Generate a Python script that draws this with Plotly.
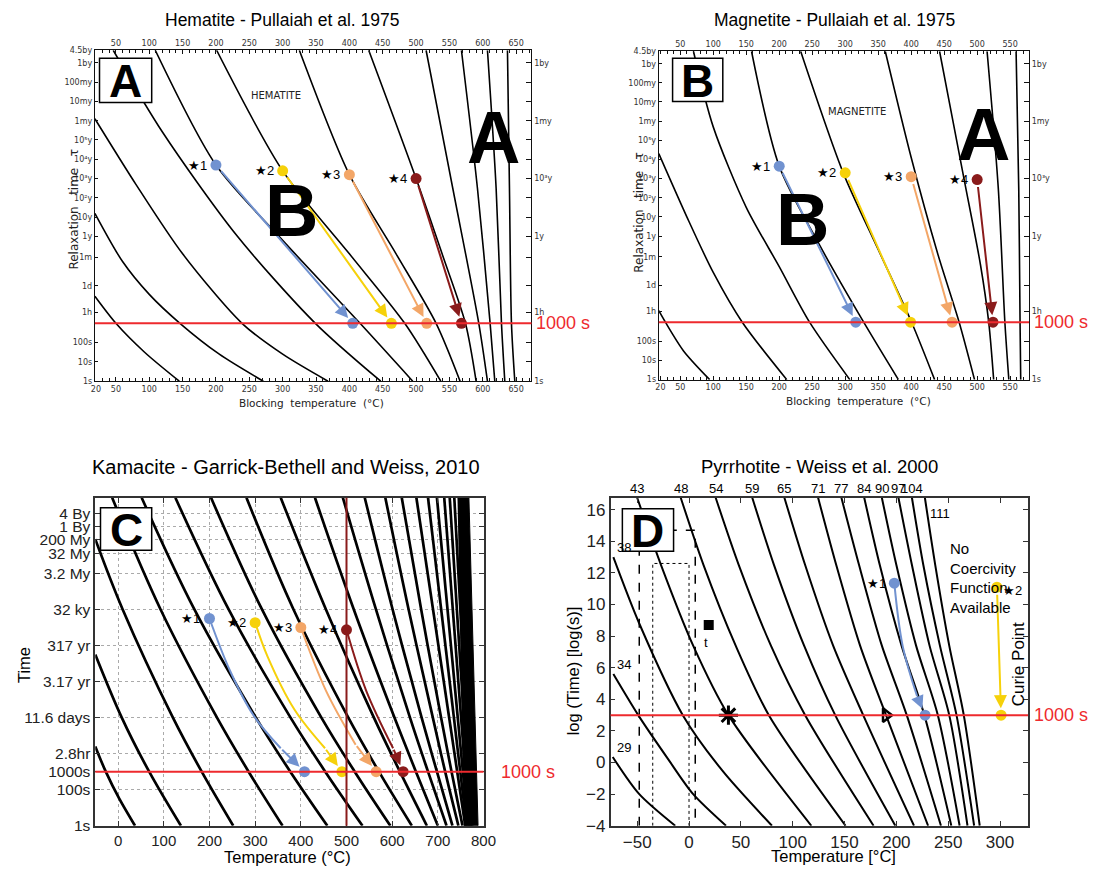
import plotly.graph_objects as go

W, H = 1108, 882

# ---------------- Hematite (Pullaiah et al. 1975) : T [°C], log10(time/s) ----------------
HEM_CURVE_T = [
    [18.5, 50, 93, 145],
    [18.5, 60, 100, 146, 205, 271],
    [18.5, 80, 150, 239, 300, 368],
    [46, 120, 230, 349, 447],
    [109, 200, 300, 416, 495],
    [201, 300, 400, 483, 537],
    [325, 400, 470, 530, 566],
    [429, 500, 540, 574, 590],
    [515, 555, 594, 607],
    [568, 592, 611, 618],
    [607, 620, 628, 633],
    [637, 640, 643, 648],
]
HEM_CURVE_L = [
    [4.4, 3.0, 1.5, 0],
    [8.7, 6.2, 4.5, 3.0, 1.4, 0],
    [13.6, 10.2, 6.6, 3.0, 1.4, 0],
    [17.15, 12.9, 7.6, 3.0, 0],
    [17.15, 11.2, 7.3, 3.0, 0],
    [17.15, 10.9, 6.6, 3.0, 0],
    [17.15, 10.7, 6.6, 3.0, 0],
    [17.15, 10.5, 6.5, 3.0, 0],
    [17.15, 10.0, 3.0, 0],
    [17.15, 10.0, 3.0, 0],
    [17.15, 10.0, 3.0, 0],
    [17.15, 10.0, 3.0, 0],
]
HEM_START_T = [200, 300, 400, 500]
HEM_START_L = [11.2, 10.9, 10.7, 10.5]
HEM_END_T = [405, 463, 516, 568]

# ---------------- Magnetite (Pullaiah et al. 1975) ----------------
MAG_CURVE_T = [
    [17.5, 27.5, 55, 94.6],
    [17.5, 60, 100, 144, 211.5],
    [70, 100, 150, 200, 246, 307],
    [158, 200, 260, 328, 380.6],
    [232.5, 297, 350, 400.6, 435.5],
    [360.7, 400, 440, 472.7, 496],
    [443, 480, 505, 517.5, 525],
    [515, 532, 542, 548],
    [559, 563, 565, 566],
]
MAG_CURVE_L = [
    [3.6, 3.0, 1.5, 0],
    [11.8, 8.5, 5.6, 3.0, 0],
    [17.15, 13.2, 9.0, 5.9, 3.0, 0],
    [17.15, 11.15, 7.1, 3.0, 0],
    [17.15, 10.8, 6.8, 3.0, 0],
    [17.15, 11.6, 6.6, 3.0, 0],
    [17.15, 10.5, 6.0, 3.0, 0],
    [17.15, 10.0, 3.0, 0],
    [17.15, 10.0, 3.0, 0],
]
MAG_START_T = [200, 300, 400, 500]
MAG_START_L = [11.15, 10.8, 10.6, 10.45]
MAG_END_T = [316, 399, 462, 524]

# Shared time axis of the two nomograms
PUL_TICK_L = [17.15, 16.5, 15.5, 14.5, 13.5, 12.5, 11.5, 10.5, 9.5, 8.5, 7.5, 6.42, 4.94, 3.56, 2, 1, 0]
PUL_TICK_TEXT = ['4.5by', '1by', '100my', '10my', '1my', '10⁵y', '10⁴y', '10³y', '10²y', '10y',
                 '1y', '1m', '1d', '1h', '100s', '10s', '1s']
PUL_RIGHT_TEXT = ['', '1by', '', '', '1my', '', '', '10³y', '', '', '1y', '', '', '1h', '', '', '1s']

# ---------------- Kamacite (Garrick-Bethell and Weiss, 2010) ----------------
KAM_CURVE_T = [
    [-50, -27, 2.5, 37],
    [-50, 8, 68, 137.5],
    [-50, 10, 120, 183, 252],
    [-13, 93, 216.5, 285.7, 360],
    [51.6, 167, 301.6, 377, 458],
    [125.4, 242, 377.5, 453.5, 535],
    [203.5, 315, 445, 518, 596],
    [281, 384, 504, 571, 643],
    [356, 455, 560, 617, 676],
    [431, 516, 605, 652, 700],
    [492, 564.5, 639, 678.5, 719],
    [540, 601, 664.5, 698, 732],
    [585, 636, 689, 716, 745],
    [621, 663.5, 707, 730, 754],
    [653, 760],
    [678.5, 763],
    [698, 766],
    [714, 769],
    [726, 772],
    [736, 775],
]
KAM_CURVE_L = [
    [4.4, 3.0, 1.5, 0],
    [9.5, 6.0, 3.0, 0],
    [15.9, 12.0, 6.0, 3.0, 0],
] + [[18.2, 12.0, 6.0, 3.0, 0]] * 11 + [[18.2, 0]] * 6
KAM_BAND_T = [743, 768, 788, 757]
KAM_BAND_L = [18.2, 18.2, 0, 0]
KAM_MARK_T = 500
KAM_START_T = [200, 300, 400, 500]
KAM_START_L = [11.5, 11.27, 11.0, 10.87]
KAM_END_T = [408, 490, 565, 624]
KAM_PATH_T = [[200, 245, 297, 356], [300, 327, 386, 453], [400, 455, 520], [500, 543, 602]]
KAM_PATH_L = [[11.5, 8.6, 6.1, 4.3], [11.27, 9.4, 6.45, 4.3], [11.0, 7.5, 4.5], [10.87, 7.5, 4.3]]
KAM_TICK_L = [17.3, 16.6, 15.9, 15.1, 14.0, 12.0, 10.0, 8.0, 6.0, 4.0, 3.0, 2.0, 0]
KAM_TICK_TEXT = ['4 By', '1 By', '200 My', '32 My', '3.2 My', '32 ky', '317 yr', '3.17 yr',
                 '11.6 days', '2.8hr', '1000s', '100s', '1s']

# ---------------- Pyrrhotite (Weiss et al. 2000) ----------------
PYR_LABELS = ['29', '34', '38', '43', '48', '54', '59', '65', '71', '77', '84', '90', '97', '104', '111']
PYR_CURVE_T = [
    [-73.6, -48, -13.3],
    [-73, -49, -20, 4, 35.7],
    [-73, -48, -6, 32, 80],
    [-50, -27, 4, 38, 118],
    [-8, 14, 45, 77, 151],
    [25.7, 48, 79, 112, 178],
    [61, 82, 111, 141, 199],
    [92, 112, 139, 168, 217],
    [124.5, 142, 165, 190, 230.6],
    [147, 164, 186, 210, 243],
    [169, 184, 205, 227, 253],
    [186, 200, 219, 240, 261],
    [202, 215, 232, 251, 268.6],
    [215, 226, 242, 258, 275],
    [227.5, 237.5, 251, 265, 280.4],
]
PYR_CURVE_L = [
    [0.35, -2, -4],
    [5.6, 3.0, 0.2, -2, -4],
    [13.0, 8.8, 3.0, -0.5, -4],
] + [[16.76, 12.5, 7.4, 3.0, -4]] * 12
PYR_START_T = [198, 297]
PYR_START_L = [11.35, 11.1]
PYR_END_T = [227.7, 301]
PYR_BLUE_PATH_T = [198, 206, 220]
PYR_BLUE_PATH_L = [11.35, 7.4, 4.2]
PYR_DASH_T = [-48, -48, 6, 6]
PYR_DASH_L = [-4, 14.7, 14.7, -4]
PYR_DOT_T = [-35, -35, 0, 0]
PYR_DOT_L = [-4, 12.6, 12.6, -4]
PYR_SQUARE = (19, 8.7)
PYR_ASTER = (38, 3.0)
PYR_TRIANGLE = (190, 3.0)

REF_LOG_TIME = 3.0   # log10(1000 s)

BLUE, YELLOW, ORANGE, MAROON = '#7192d0', '#f6d10a', '#f3a667', '#8a1b1b'
RED = '#ee2a2e'
DOT_COLORS = [BLUE, YELLOW, ORANGE, MAROON]

SCAN_FONT = 'DejaVu Sans'
SANS = 'Liberation Sans'

fig = go.Figure()


def px(x):
    return x / W


def py(y):
    return 1 - y / H


def add_curves(ts, ls, xa, ya, width, smoothing=0.8):
    for t, l in zip(ts, ls):
        fig.add_trace(go.Scatter(x=t, y=l, mode='lines', xaxis=xa, yaxis=ya, hoverinfo='skip',
                                 line=dict(color='black', width=width, shape='spline', smoothing=smoothing),
                                 showlegend=False))


def add_dots(ts, ls, colors, xa, ya, size=11):
    fig.add_trace(go.Scatter(x=ts, y=ls, mode='markers', xaxis=xa, yaxis=ya, hoverinfo='skip',
                             marker=dict(color=colors, size=size, line=dict(width=0)), showlegend=False))


def add_arrow(xa, ya, x0, y0, x1, y1, color, width=2, startstandoff=6):
    fig.add_annotation(x=x1, y=y1, ax=x0, ay=y0, xref=xa, yref=ya, axref=xa, ayref=ya, text='',
                       showarrow=True, arrowhead=2, arrowsize=1.3, arrowwidth=width, arrowcolor=color,
                       standoff=7, startstandoff=startstandoff)


def add_stars(ts, ls, xa, ya, size=13):
    for i, (t, l) in enumerate(zip(ts, ls)):
        fig.add_annotation(x=t, y=l, xref=xa, yref=ya, text='★' + str(i + 1), showarrow=False,
                           xanchor='right', yanchor='middle', xshift=-7,
                           font=dict(size=size, color='black', family=SANS))


def red_line(xa, ya, label_px):
    fig.add_shape(type='line', xref=xa + ' domain', x0=0, x1=1, yref=ya, y0=REF_LOG_TIME, y1=REF_LOG_TIME,
                  line=dict(color=RED, width=2), layer='above')
    fig.add_annotation(x=px(label_px), y=REF_LOG_TIME, xref='paper', yref=ya, text='1000 s', showarrow=False,
                       xanchor='left', yanchor='middle', font=dict(size=18, color=RED, family=SANS))


def letter_box(x0, y0, x1, y1, letter):
    fig.add_shape(type='rect', xref='paper', yref='paper', x0=px(x0), x1=px(x1), y0=py(y1), y1=py(y0),
                  line=dict(color='black', width=1.5), fillcolor='white', layer='above')
    fig.add_annotation(x=px((x0 + x1) / 2), y=py((y0 + y1) / 2), xref='paper', yref='paper',
                       text='<b>' + letter + '</b>', showarrow=False, xanchor='center', yanchor='middle',
                       font=dict(size=46, color='black', family=SANS), yshift=-1)


def big_letter(cx, cy, letter):
    fig.add_annotation(x=px(cx), y=py(cy), xref='paper', yref='paper', text='<b>' + letter + '</b>',
                       showarrow=False, xanchor='center', yanchor='middle',
                       font=dict(size=74, color='black', family=SANS))


def text(x, y, s, size, angle=0, family=SANS, color='black'):
    fig.add_annotation(x=px(x), y=py(y), xref='paper', yref='paper', text=s, showarrow=False,
                       textangle=angle, xanchor='center', yanchor='middle',
                       font=dict(size=size, color=color, family=family))


# ---------------- Panel A ----------------
add_curves(HEM_CURVE_T, HEM_CURVE_L, 'x', 'y', 1.6)
fig.add_trace(go.Scatter(x=[300], y=[5], xaxis='x2', yaxis='y2', mode='markers',
                         marker=dict(opacity=0), hoverinfo='skip', showlegend=False))
for i in range(4):
    add_arrow('x', 'y', HEM_START_T[i], HEM_START_L[i], HEM_END_T[i], REF_LOG_TIME, DOT_COLORS[i])
red_line('x', 'y', 538)
add_dots(HEM_START_T + HEM_END_T, HEM_START_L + [REF_LOG_TIME] * 4, DOT_COLORS * 2, 'x', 'y')
add_stars(HEM_START_T, HEM_START_L, 'x', 'y')
fig.add_annotation(x=290, y=14.8, xref='x', yref='y', text='HEMATITE', showarrow=False,
                   font=dict(size=10, family=SCAN_FONT, color='#222'))

# ---------------- Panel B ----------------
add_curves(MAG_CURVE_T, MAG_CURVE_L, 'x3', 'y3', 1.6)
fig.add_trace(go.Scatter(x=[300], y=[5], xaxis='x4', yaxis='y4', mode='markers',
                         marker=dict(opacity=0), hoverinfo='skip', showlegend=False))
for i in range(4):
    add_arrow('x3', 'y3', MAG_START_T[i], MAG_START_L[i], MAG_END_T[i], REF_LOG_TIME, DOT_COLORS[i])
red_line('x3', 'y3', 1044)
add_dots(MAG_START_T + MAG_END_T, MAG_START_L + [REF_LOG_TIME] * 4, DOT_COLORS * 2, 'x3', 'y3')
add_stars(MAG_START_T, MAG_START_L, 'x3', 'y3')
fig.add_annotation(x=318, y=14.0, xref='x3', yref='y3', text='MAGNETITE', showarrow=False,
                   font=dict(size=10, family=SCAN_FONT, color='#222'))

# ---------------- Panel C ----------------
fig.add_trace(go.Scatter(x=KAM_BAND_T, y=KAM_BAND_L, xaxis='x5', yaxis='y5', mode='lines', fill='toself',
                         fillcolor='black', line=dict(color='black', width=1), hoverinfo='skip',
                         showlegend=False))
add_curves(KAM_CURVE_T, KAM_CURVE_L, 'x5', 'y5', 2.7, smoothing=1.0)
fig.add_shape(type='line', xref='x5', x0=KAM_MARK_T, x1=KAM_MARK_T, yref='y5 domain', y0=0, y1=1,
              line=dict(color=MAROON, width=2))
for i in range(4):
    fig.add_trace(go.Scatter(x=KAM_PATH_T[i], y=KAM_PATH_L[i], xaxis='x5', yaxis='y5', mode='lines',
                             line=dict(color=DOT_COLORS[i], width=2, shape='spline'), hoverinfo='skip',
                             showlegend=False))
    add_arrow('x5', 'y5', KAM_PATH_T[i][-1], KAM_PATH_L[i][-1], KAM_END_T[i], REF_LOG_TIME, DOT_COLORS[i],
              startstandoff=0)
red_line('x5', 'y5', 503)
add_dots(KAM_START_T + KAM_END_T, KAM_START_L + [REF_LOG_TIME] * 4, DOT_COLORS * 2, 'x5', 'y5')
add_stars(KAM_START_T, KAM_START_L, 'x5', 'y5')

# ---------------- Panel D ----------------
fig.add_trace(go.Scatter(x=PYR_DASH_T, y=PYR_DASH_L, xaxis='x6', yaxis='y6', mode='lines',
                         line=dict(color='black', width=1.5, dash='dash'), hoverinfo='skip', showlegend=False))
fig.add_trace(go.Scatter(x=PYR_DOT_T, y=PYR_DOT_L, xaxis='x6', yaxis='y6', mode='lines',
                         line=dict(color='black', width=1, dash='dot'), hoverinfo='skip', showlegend=False))
add_curves(PYR_CURVE_T, PYR_CURVE_L, 'x6', 'y6', 2.0)
red_line('x6', 'y6', 1044)
fig.add_trace(go.Scatter(x=[PYR_SQUARE[0]], y=[PYR_SQUARE[1]], xaxis='x6', yaxis='y6', mode='markers',
                         marker=dict(symbol='square', color='black', size=10), hoverinfo='skip',
                         showlegend=False))
fig.add_trace(go.Scatter(x=[PYR_ASTER[0]], y=[PYR_ASTER[1]], xaxis='x6', yaxis='y6', mode='markers',
                         marker=dict(symbol='asterisk-open', size=16, color='black',
                                     line=dict(color='black', width=3)),
                         hoverinfo='skip', showlegend=False))
fig.add_trace(go.Scatter(x=[PYR_TRIANGLE[0]], y=[PYR_TRIANGLE[1]], xaxis='x6', yaxis='y6', mode='markers',
                         marker=dict(symbol='triangle-right-open', size=12, color='black',
                                     line=dict(color='black', width=2.5)),
                         hoverinfo='skip', showlegend=False))
fig.add_trace(go.Scatter(x=PYR_BLUE_PATH_T, y=PYR_BLUE_PATH_L, xaxis='x6', yaxis='y6', mode='lines',
                         line=dict(color=BLUE, width=2, shape='spline'), hoverinfo='skip', showlegend=False))
add_arrow('x6', 'y6', PYR_BLUE_PATH_T[-1], PYR_BLUE_PATH_L[-1], PYR_END_T[0], REF_LOG_TIME, BLUE,
          startstandoff=0)
add_arrow('x6', 'y6', PYR_START_T[1], PYR_START_L[1], PYR_END_T[1], REF_LOG_TIME, YELLOW)
add_dots(PYR_START_T + PYR_END_T, PYR_START_L + [REF_LOG_TIME] * 2, [BLUE, YELLOW, BLUE, YELLOW], 'x6', 'y6')
fig.add_annotation(x=PYR_START_T[0], y=PYR_START_L[0], xref='x6', yref='y6', text='★1', showarrow=False,
                   xanchor='right', yanchor='middle', xshift=-6, font=dict(size=13, family=SANS, color='black'))
fig.add_annotation(x=PYR_START_T[1], y=PYR_START_L[1], xref='x6', yref='y6', text='★2', showarrow=False,
                   xanchor='left', yanchor='middle', xshift=4, yshift=-3,
                   font=dict(size=13, family=SANS, color='black'))
fig.add_annotation(x=16, y=7.6, xref='x6', yref='y6', text='t', showarrow=False,
                   font=dict(size=13, family=SANS, color='black'))
for lab, t, l in zip(PYR_LABELS, PYR_CURVE_T, PYR_CURVE_L):
    if lab in ('29', '34', '38'):
        fig.add_annotation(x=t[0], y=l[0], xref='x6', yref='y6', text=lab, showarrow=False,
                           xanchor='left', yanchor='bottom', xshift=2,
                           font=dict(size=13, family=SANS, color='black'))
    elif lab == '111':
        fig.add_annotation(x=t[0], y=l[0], xref='x6', yref='y6', text=lab, showarrow=False,
                           xanchor='left', yanchor='top', xshift=3, yshift=-6,
                           font=dict(size=13, family=SANS, color='black'))
    else:
        fig.add_annotation(x=t[0], y=1.0, xref='x6', yref='y6 domain', text=lab, showarrow=False,
                           xanchor='center', yanchor='bottom', font=dict(size=13, family=SANS, color='black'))
fig.add_annotation(x=250, y=14.2, xref='x6', yref='y6', text='No<br>Coercivity<br>Function<br>Available',
                   showarrow=False, xanchor='left', yanchor='top', align='left',
                   font=dict(size=15, family=SANS, color='black'))
fig.add_annotation(x=318, y=6.2, xref='x6', yref='y6', text='Curie Point', showarrow=False, textangle=-90,
                   xanchor='center', yanchor='middle', font=dict(size=17, family=SANS, color='black'))

# ---------------- Letter boxes, big letters, titles ----------------
letter_box(97, 55, 150, 100, 'A')
letter_box(679, 55, 730, 99, 'B')
letter_box(98, 512, 150, 555, 'C')
letter_box(628, 513, 680, 556, 'D')
big_letter(292, 210, 'B')
big_letter(497, 136, 'A')
big_letter(811, 219, 'B')
big_letter(995, 133, 'A')

text(282, 16, 'Hematite - Pullaiah et al. 1975', 17.5)
text(843, 16, 'Magnetite - Pullaiah et al. 1975', 17.5)
text(286, 470, 'Kamacite - Garrick-Bethell and Weiss, 2010', 20)
text(828, 470, 'Pyrrhotite - Weiss et al. 2000', 18.5)

text(312, 405, 'Blocking  temperature  (°C)', 10.5, family=SCAN_FONT, color='#222')
text(868, 403, 'Blocking  temperature  (°C)', 10.5, family=SCAN_FONT, color='#222')
text(71, 208, 'Relaxation   time   τ', 12, angle=-90, family=SCAN_FONT, color='#222')
text(645, 212, 'Relaxation   time   τ', 12, angle=-90, family=SCAN_FONT, color='#222')
text(288, 867, 'Temperature (°C)', 16.5)
text(21, 672, 'Time', 16.5, angle=-90)
text(842, 866, 'Temperature [°C]', 16.5)
text(578, 678, 'log (Time) [log(s)]', 16.5, angle=-90)

# ---------------- Axes ----------------
scan_tick = dict(size=8, family=SCAN_FONT, color='#333')
pul_x_bottom = [20] + list(range(50, 651, 50))


def pul_axes(xr, yr, xdom, ydom, bottom_vals, top_vals):
    common = dict(showgrid=False, zeroline=False, showline=True, linecolor='#111', linewidth=1.2,
                  ticks='inside', ticklen=4, tickcolor='#111', tickfont=scan_tick)
    xb = dict(common, domain=xdom, range=xr, tickmode='array', tickvals=bottom_vals,
              ticktext=[str(v) for v in bottom_vals],
              minor=dict(tickmode='array', tickvals=list(range(20, int(xr[1]) + 1, 10)), ticks='inside',
                         ticklen=3, tickcolor='#111'))
    xt = dict(xb, side='top', tickvals=top_vals, ticktext=[str(v) for v in top_vals])
    yl = dict(common, domain=ydom, range=yr, tickmode='array', tickvals=PUL_TICK_L, ticktext=PUL_TICK_TEXT,
              ticklen=3)
    yrr = dict(yl, side='right', ticktext=PUL_RIGHT_TEXT, ticklen=5)
    return xb, xt, yl, yrr


xa, xa2, ya, ya2 = pul_axes([18.5, 673], [0, 17.15], [px(92.3), px(535.7)], [py(383.3), py(47)],
                            pul_x_bottom, list(range(50, 651, 50)))
xb3, xb4, yb3, yb4 = pul_axes([17.5, 578.6], [0, 17.15], [px(665), px(1041)], [py(381.7), py(48)],
                              [20] + list(range(50, 551, 50)), list(range(50, 551, 50)))

frame = dict(showline=True, linecolor='#333', linewidth=1.6, mirror='ticks', zeroline=False,
             ticks='inside', ticklen=5, tickcolor='#333')
fig.update_layout(
    width=W, height=H, margin=dict(l=0, r=0, t=0, b=0), paper_bgcolor='white', plot_bgcolor='white',
    showlegend=False, font=dict(family=SANS, color='black'),
    xaxis=dict(xa, anchor='y'), xaxis2=dict(xa2, anchor='y2', overlaying='x'),
    yaxis=dict(ya, anchor='x'), yaxis2=dict(ya2, anchor='x2', overlaying='y'),
    xaxis3=dict(xb3, anchor='y3'), xaxis4=dict(xb4, anchor='y4', overlaying='x3'),
    yaxis3=dict(yb3, anchor='x3'), yaxis4=dict(yb4, anchor='x4', overlaying='y3'),
    xaxis5=dict(frame, domain=[px(92.7), px(487)], range=[-50, 800], anchor='y5',
                tickvals=list(range(0, 801, 100)), showgrid=True, gridcolor='#aaa', griddash='dot',
                gridwidth=1, tickfont=dict(size=15, family=SANS, color='#222')),
    yaxis5=dict(frame, domain=[py(835), py(501.7)], range=[0, 18.2], anchor='x5', tickmode='array',
                tickvals=KAM_TICK_L, ticktext=KAM_TICK_TEXT, showgrid=True, gridcolor='#aaa',
                griddash='dot', gridwidth=1, tickfont=dict(size=15.5, family=SANS, color='#222')),
    xaxis6=dict(frame, domain=[px(616), px(1040)], range=[-75.7, 327], anchor='y6',
                tickvals=list(range(-50, 301, 50)), showgrid=False,
                tickfont=dict(size=17, family=SANS, color='#222')),
    yaxis6=dict(frame, domain=[py(835), py(501.7)], range=[-4, 16.76], anchor='x6',
                tickvals=list(range(-4, 17, 2)), showgrid=False,
                tickfont=dict(size=17, family=SANS, color='#222')),
)

fig.write_html('out.html')
